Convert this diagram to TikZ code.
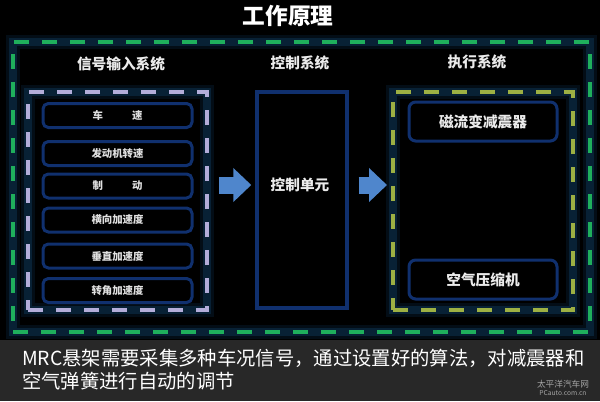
\documentclass[tikz,border=0pt]{standalone}
\usepackage{fontspec}
\setmainfont{Noto Sans CJK SC}
\usetikzlibrary{arrows.meta,positioning,fit}
\definecolor{bandbg}{HTML}{282828}
\definecolor{glow}{HTML}{0A2840}
\definecolor{outergreen}{HTML}{1FAF5C}
\definecolor{lavender}{HTML}{B3ADD9}
\definecolor{olive}{HTML}{9DB043}
\definecolor{boxblue}{HTML}{10306E}
\definecolor{arrowblue}{HTML}{4F86CC}

\begin{document}
\begin{tikzpicture}[x=0.75pt, y=-0.75pt,
  dashbox/.style={draw, line width=3pt, dash pattern=on 11.25pt off 9.75pt, inner sep=0pt,
    preaction={draw=glow, solid, line width=11pt, opacity=.35},
    preaction={draw=glow, solid, line width=6pt, opacity=.75}},
  sigbox/.style={draw=boxblue, line width=2.25pt, rounded corners=4pt, fill=black,
    minimum width=111.75pt, minimum height=18pt, text=white!88!black,
    font=\fontsize{7.8}{9}\selectfont\bfseries},
  actbox/.style={draw=boxblue, line width=2.25pt, rounded corners=5pt, fill=black,
    minimum width=111pt, minimum height=29.25pt, text=white!92!black,
    font=\fontsize{11}{13}\selectfont\bfseries},
  header/.style={text=white!92!black, font=\fontsize{11}{13}\selectfont\bfseries},
  caption/.style={anchor=base west, text=white, inner sep=0pt, font=\fontsize{14.5}{17}\selectfont},
  flow/.style={arrowblue, line width=12.75pt,
    -{Triangle[length=13.5pt, width=24.75pt]}, shorten <=7.5pt, shorten >=3pt}
]
  % background and caption band
  \fill[black] (0,0) rectangle (600,401);
  \fill[bandbg] (0,340) rectangle (600,401);
  \useasboundingbox (0,0) rectangle (600,401);

  \node[text=white, font=\fontsize{17}{20}\selectfont\bfseries] (title) at (288,16) {工作原理};

  % system frames
  \node[dashbox, draw=outergreen, fit={(13,42) (590,332)}] (mrc) {};
  \node[dashbox, draw=lavender, fit={(28,92) (207,310)}] (insys) {};
  \node[dashbox, draw=olive, fit={(393,92) (573,310)}] (actsys) {};
  \node[draw=boxblue, line width=2.6pt, fill=black, inner sep=0pt, fit={(257,92) (347,308)}] (ctrl) {};

  \node[header] (inhead) at (121,64) {信号输入系统};
  \node[header] (ctrlhead) at (300,63) {控制系统};
  \node[header] (acthead) at (477,62) {执行系统};

  % input signals
  \node[sigbox] (speed) at (117.5,115.5) {车\hspace{2.8em}速};
  \node[sigbox] (engine) at (117.5,153.5) {发动机转速};
  \node[sigbox] (brake) at (117.5,186) {制\hspace{2.8em}动};
  \node[sigbox] (latacc) at (117.5,220) {横向加速度};
  \node[sigbox] (vertacc) at (117.5,256) {垂直加速度};
  \node[sigbox] (steer) at (117.5,290.5) {转角加速度};

  \node[header] (ecu) at (300,185) {控制单元};

  % actuators
  \node[actbox] (damper) at (483,121.5) {磁流变减震器};
  \node[actbox] (compr) at (483,279.5) {空气压缩机};

  \draw[flow] (insys.east |- ecu.center) -- (ctrl.west |- ecu.center);
  \draw[flow] (ctrl.east |- ecu.center) -- (actsys.west |- ecu.center);

  \node[caption] (cap1) at (22,365) {MRC悬架需要采集多种车况信号，通过设置好的算法，对减震器和};
  \node[caption] (cap2) at (22,388) {空气弹簧进行自动的调节};

  \node[text=gray!70, inner sep=0pt, font=\fontsize{6.5}{7}\selectfont] (mark) at (563,384) {太平洋汽车网};
  \node[text=gray!70, inner sep=0pt, font=\fontsize{5}{6}\selectfont, below=1.5pt of mark] (site) {PCauto.com.cn};
\end{tikzpicture}
\end{document}
